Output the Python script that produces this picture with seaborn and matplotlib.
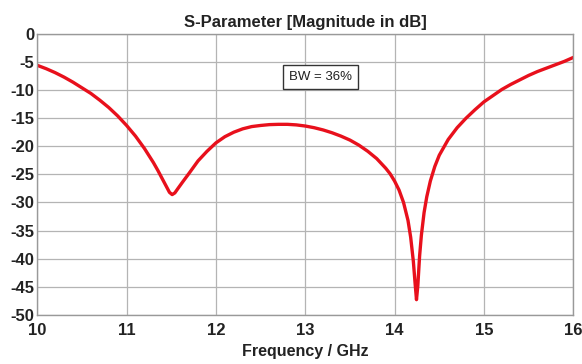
import matplotlib
matplotlib.use("Agg")
import matplotlib.pyplot as plt
import seaborn as sns
import pandas as pd

freq_ghz = [10.0, 10.1, 10.2, 10.3, 10.4, 10.5, 10.6, 10.7, 10.8, 10.9, 11.0, 11.1, 11.2,
            11.3, 11.35, 11.4, 11.45, 11.48, 11.51, 11.54, 11.58, 11.63, 11.7, 11.8, 11.9,
            12.0, 12.1, 12.2, 12.3, 12.4, 12.5, 12.6, 12.7, 12.8, 12.9, 13.0, 13.1, 13.2,
            13.3, 13.4, 13.5, 13.6, 13.7, 13.8, 13.9, 13.95, 14.0, 14.05, 14.1, 14.15, 14.18,
            14.21, 14.23, 14.245, 14.26, 14.28, 14.3, 14.33, 14.36, 14.4, 14.45, 14.5, 14.6,
            14.7, 14.8, 14.9, 15.0, 15.1, 15.2, 15.3, 15.4, 15.5, 15.6, 15.7, 15.8, 15.9, 16.0]
mag_db = [-5.6, -6.2, -6.9, -7.7, -8.6, -9.6, -10.6, -11.8, -13.1, -14.6, -16.3, -18.2, -20.4,
          -22.9, -24.3, -25.8, -27.3, -28.2, -28.6, -28.3, -27.4, -26.3, -24.8, -22.6, -20.9,
          -19.4, -18.3, -17.5, -16.9, -16.5, -16.3, -16.15, -16.1, -16.1, -16.2, -16.4, -16.7, -17.1,
          -17.6, -18.2, -18.9, -19.8, -20.9, -22.2, -23.9, -24.9, -26.2, -27.8, -30.0, -33.2, -36.2,
          -40.5, -44.5, -47.3, -44.8, -39.5, -35.8, -31.8, -29.0, -26.2, -23.6, -21.6, -18.8,
          -16.7, -15.0, -13.5, -12.1, -11.0, -9.9, -9.0, -8.2, -7.4, -6.7, -6.1, -5.5, -4.9, -4.2]

x_ticks = [10, 11, 12, 13, 14, 15, 16]
y_ticks = [0, -5, -10, -15, -20, -25, -30, -35, -40, -45, -50]

title = "S-Parameter [Magnitude in dB]"
x_label = "Frequency / GHz"
annotation = "BW = 36%"

sns.set_theme(style="whitegrid")
plt.rcParams["font.family"] = ["Liberation Sans", "DejaVu Sans"]

df = pd.DataFrame({"f": freq_ghz, "s": mag_db})

fig = plt.figure(figsize=(5.82, 3.64), dpi=100)
ax = fig.add_axes([0.064, 0.135, 0.921, 0.772])
sns.lineplot(data=df, x="f", y="s", ax=ax, color="#e8101c", linewidth=2.4)

ax.set_xlim(10, 16)
ax.set_ylim(-50, 0)
ax.set_xticks(x_ticks)
ax.set_yticks(y_ticks)
ax.set_xticklabels([str(t) for t in x_ticks], fontweight="bold", fontsize=12, color="#222222")
ax.set_yticklabels([str(t) for t in y_ticks], fontweight="bold", fontsize=12, color="#222222")
ax.grid(True, color="#b4b4b4", linewidth=0.9)
for s in ax.spines.values():
    s.set_color("#999999")
    s.set_linewidth(1.0)
ax.tick_params(axis="both", length=0)
ax.tick_params(axis="x", pad=6)
ax.tick_params(axis="y", pad=2)
ax.set_xlabel(x_label, fontweight="bold", fontsize=11.5, color="#222222", labelpad=4)
ax.set_ylabel("")
ax.set_title(title, fontweight="bold", fontsize=12, color="#222222", pad=5)
ax.text(13.17, -7.6, annotation, ha="center", va="center", fontsize=9.5, color="#222222",
        bbox=dict(boxstyle="square,pad=0.45", facecolor="white", edgecolor="#333333", linewidth=1.0))

fig.savefig("out.png", dpi=100)
